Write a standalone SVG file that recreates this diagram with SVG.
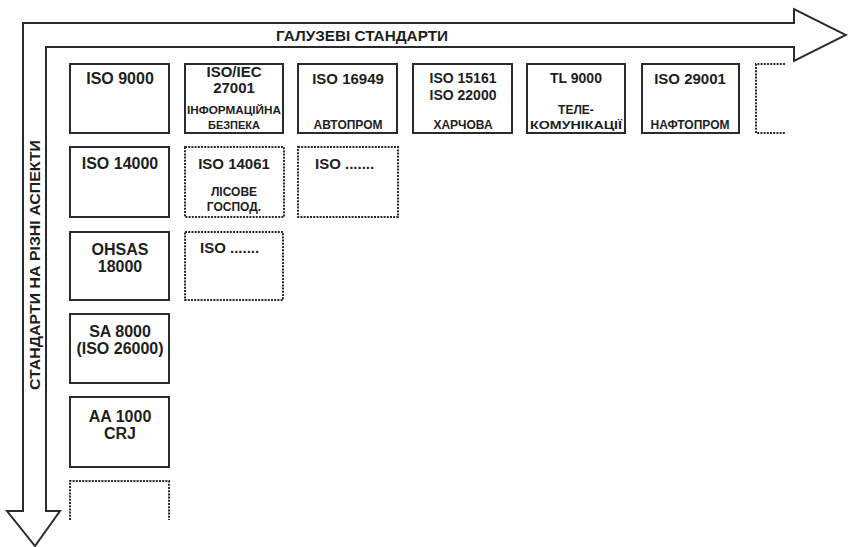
<svg xmlns="http://www.w3.org/2000/svg" width="848" height="547" viewBox="0 0 848 547">
<style>
.bg{fill:#fff}
.box{fill:#fff;stroke:#2b2b2b;stroke-width:2}
.dbox{fill:#fff;stroke:#2b2b2b;stroke-width:2;stroke-dasharray:2 1.2}
.dline{fill:none;stroke:#2b2b2b;stroke-width:2;stroke-dasharray:2 1.2}
.axis{fill:#fff;stroke:#2b2b2b;stroke-width:2;stroke-linejoin:miter}
text{font-family:"Liberation Sans",Arial,sans-serif;font-weight:bold;fill:#1e1e1e;text-anchor:middle}
.t16{font-size:16px}
.t15{font-size:15px}
.t14{font-size:14px}
.t12{font-size:12px}
.t11{font-size:11px}
.l{text-anchor:start}
</style>
<rect class="bg" x="0" y="0" width="848" height="547"/>
<g id="connectors">
<path class="axis" d="M23,511 V23 H794 V9 L846,35 L794,61 V47 H46 V511 H60 L35,546 L7,511 Z"/>
<text class="t15" x="362" y="41" textLength="172" lengthAdjust="spacingAndGlyphs">ГАЛУЗЕВІ СТАНДАРТИ</text>
<text class="t15" transform="translate(40,265) rotate(-90)" x="0" y="0" textLength="250" lengthAdjust="spacingAndGlyphs">СТАНДАРТИ НА РІЗНІ АСПЕКТИ</text>
</g>
<g id="iso9000"><rect class="box" x="70" y="64" width="99" height="69"/><text class="t16" x="120" y="84">ISO 9000</text></g>
<g id="iso27001"><rect class="box" x="185" y="64" width="98" height="69"/>
<text class="t15" x="234" y="77">ISO/IEC</text><text class="t15" x="234" y="93">27001</text>
<text class="t11" x="234" y="114" textLength="94" lengthAdjust="spacingAndGlyphs">ІНФОРМАЦІЙНА</text><text class="t11" x="234" y="129">БЕЗПЕКА</text></g>
<g id="iso16949"><rect class="box" x="298" y="64" width="99" height="69"/>
<text class="t15" x="348" y="84">ISO 16949</text><text class="t12" x="348" y="129">АВТОПРОМ</text></g>
<g id="iso15161"><rect class="box" x="413" y="64" width="99" height="69"/>
<text class="t14" x="463" y="83">ISO 15161</text><text class="t14" x="463" y="100">ISO 22000</text><text class="t12" x="463" y="129">ХАРЧОВА</text></g>
<g id="tl9000"><rect class="box" x="527" y="64" width="98" height="69"/>
<text class="t14" x="576" y="83">TL 9000</text><text class="t12" x="576" y="114">ТЕЛЕ-</text><text class="t11" x="576" y="129" textLength="92" lengthAdjust="spacingAndGlyphs">КОМУНІКАЦІЇ</text></g>
<g id="iso29001"><rect class="box" x="642" y="64" width="97" height="69"/>
<text class="t15" x="690" y="84">ISO 29001</text><text class="t12" x="690" y="129">НАФТОПРОМ</text></g>
<g id="more-row1"><path class="dline" d="M785,64 H756 V133 H785"/></g>
<g id="iso14000"><rect class="box" x="70" y="147" width="99" height="70"/><text class="t16" x="120" y="169">ISO 14000</text></g>
<g id="iso14061"><rect class="dbox" x="185" y="147" width="99" height="70"/>
<text class="t15" x="234" y="169">ISO 14061</text><text class="t12" x="234" y="196">ЛІСОВЕ</text><text class="t12" x="234" y="211">ГОСПОД.</text></g>
<g id="iso-more-2"><rect class="dbox" x="298" y="147" width="100" height="70"/><text class="t15 l" x="315" y="169">ISO .......</text></g>
<g id="ohsas"><rect class="box" x="70" y="232" width="99" height="68"/>
<text class="t16" x="120" y="255">OHSAS</text><text class="t16" x="120" y="272">18000</text></g>
<g id="iso-more-3"><rect class="dbox" x="185" y="232" width="98" height="68"/><text class="t15 l" x="200" y="253">ISO .......</text></g>
<g id="sa8000"><rect class="box" x="70" y="314" width="99" height="69"/>
<text class="t16" x="120" y="337">SA 8000</text><text class="t16" x="120" y="354">(ISO 26000)</text></g>
<g id="aa1000"><rect class="box" x="70" y="397" width="99" height="70"/>
<text class="t16" x="120" y="422">AA 1000</text><text class="t16" x="120" y="439">CRJ</text></g>
<g id="more-col1"><path class="dline" d="M70,520 V481 H169 V520"/></g>
</svg>
